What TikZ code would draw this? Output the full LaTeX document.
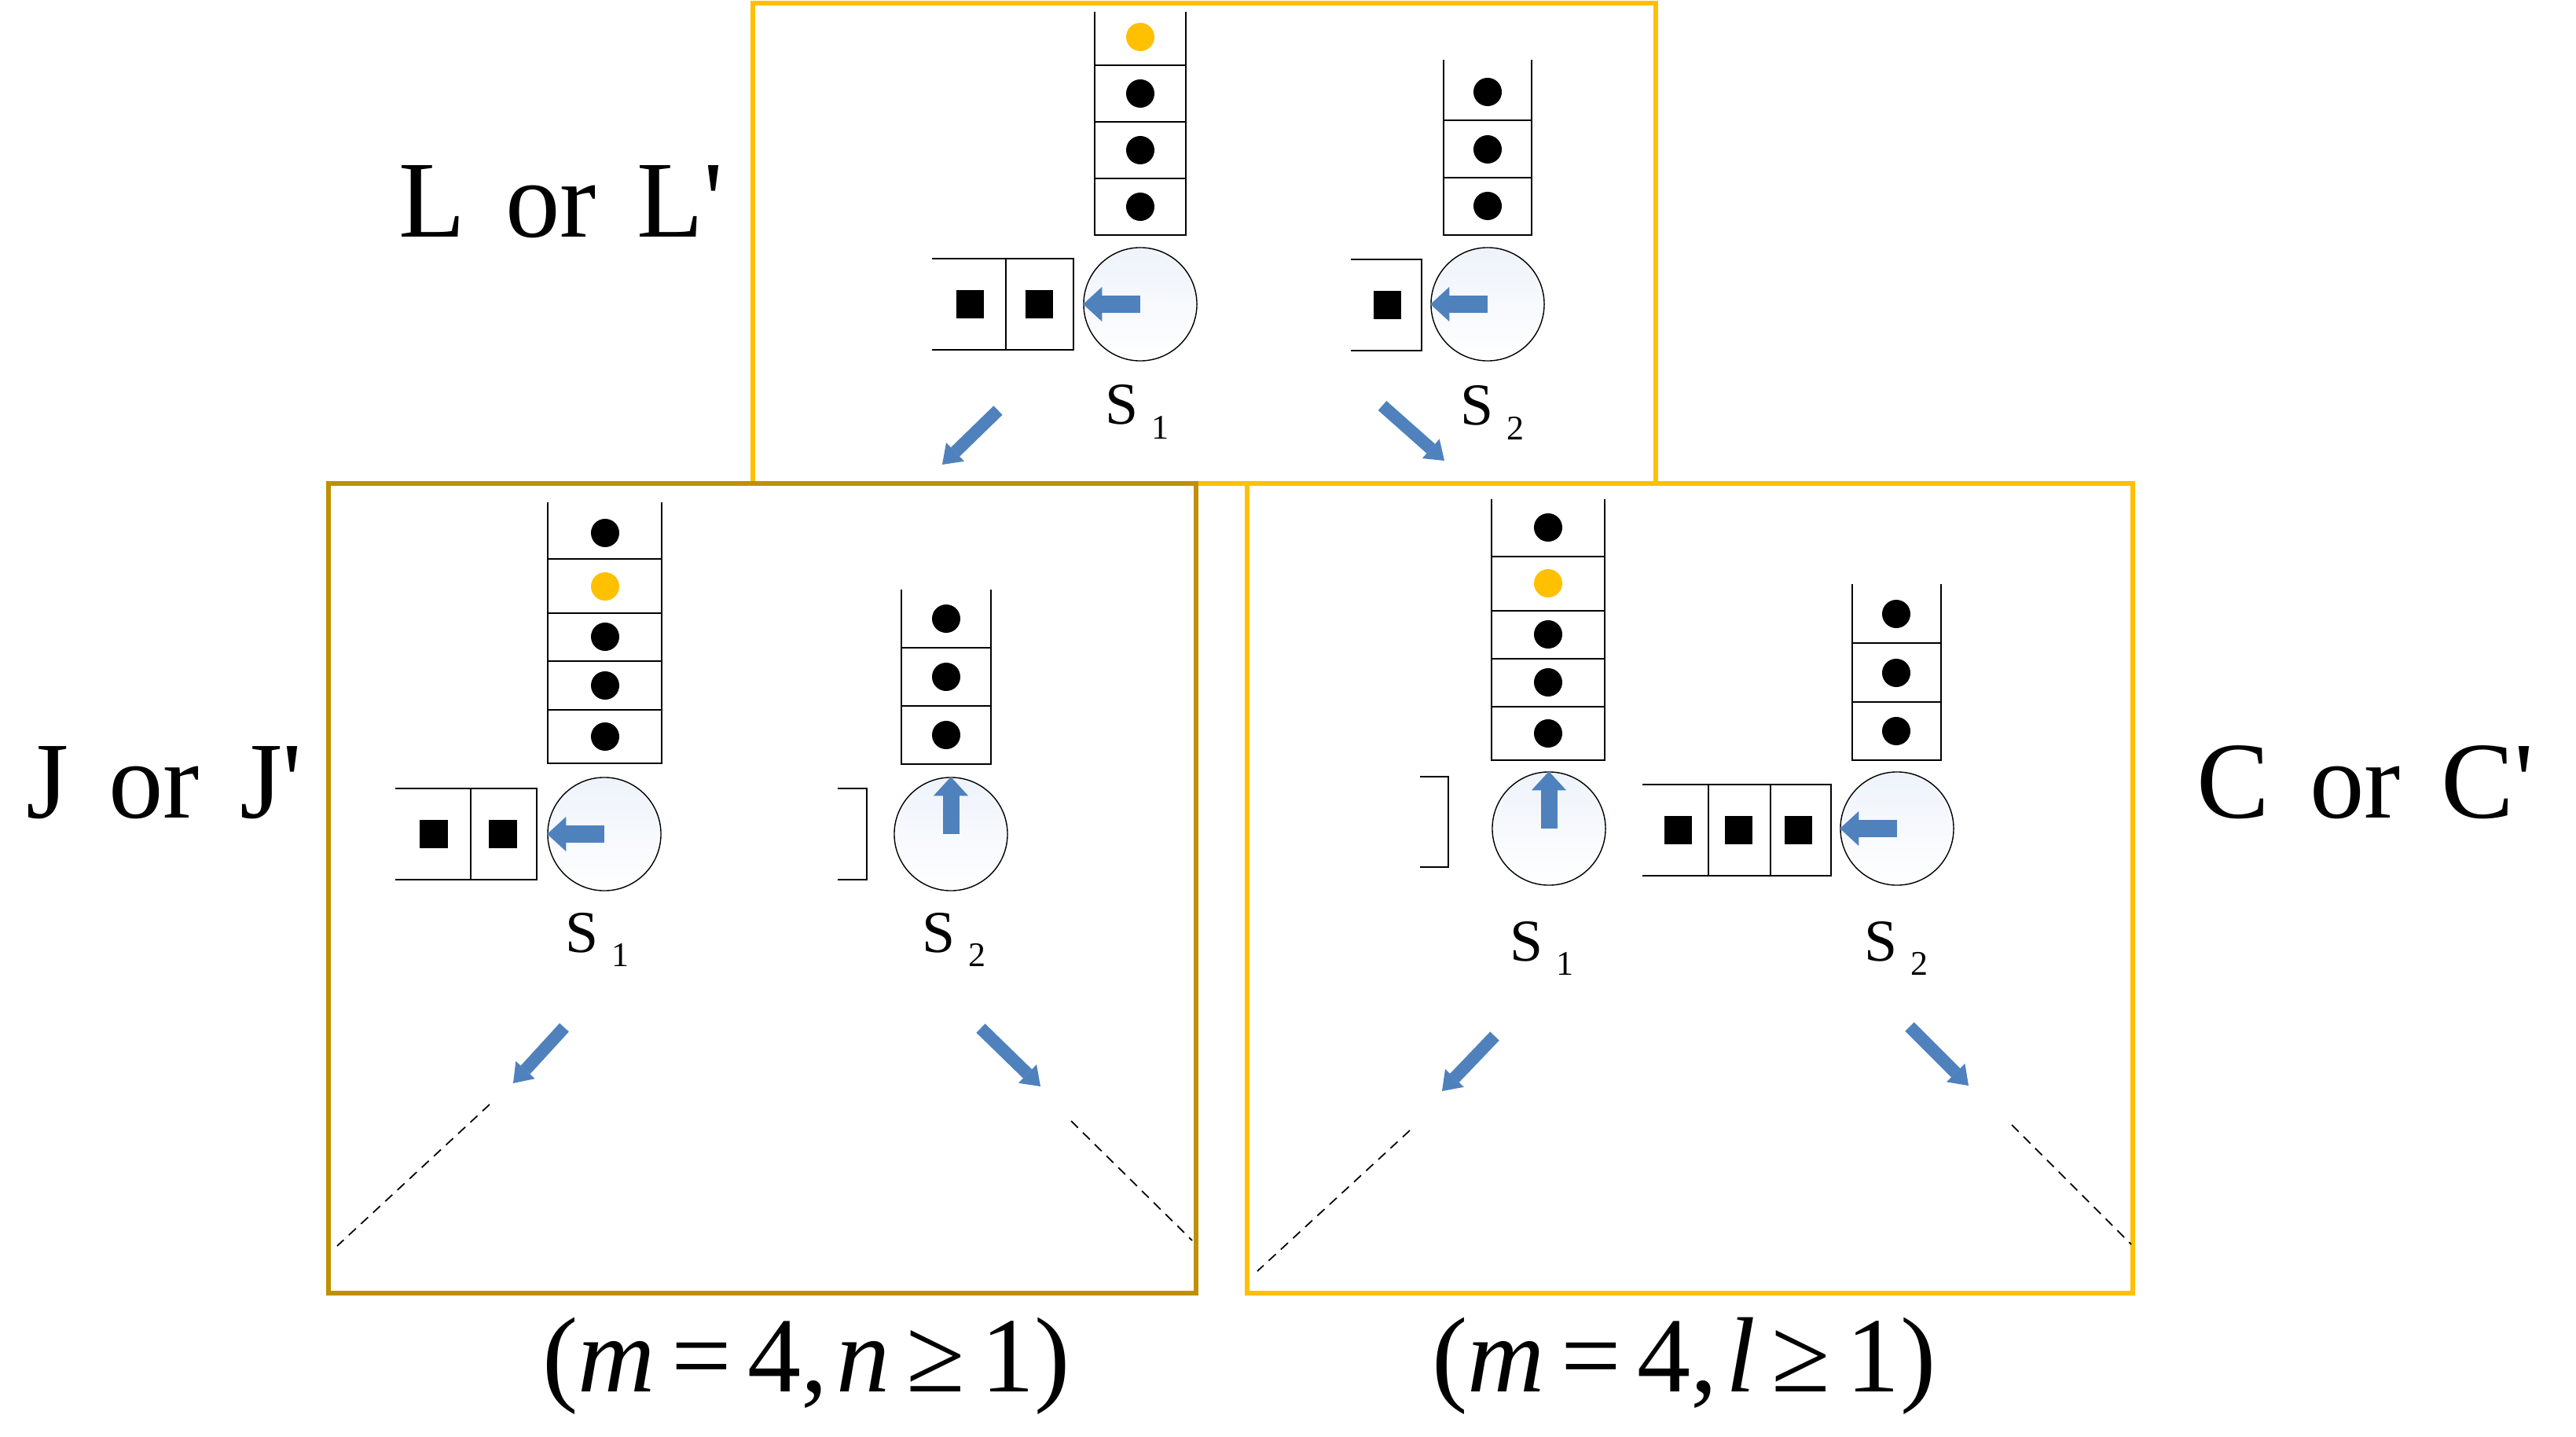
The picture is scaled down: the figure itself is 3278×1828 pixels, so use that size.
\documentclass[tikz,border=0pt]{standalone}
\usepackage{fontspec}
\newfontfamily\tnr{Liberation Serif}
\usetikzlibrary{arrows.meta}
\definecolor{boxyellow}{RGB}{255,192,0}
\definecolor{boxgold}{RGB}{191,144,0}
\definecolor{arrowblue}{RGB}{79,129,189}
\definecolor{srvtint}{RGB}{238,243,251}
\newcommand{\srvname}[1]{S\hspace{0.22em}\raisebox{-0.18cm}{\fontsize{12.5}{13}\selectfont #1}}

\begin{document}
\begin{tikzpicture}[x=0.01cm,y=-0.01cm,
    boxline/.style={line width=1.6pt},
    cell/.style={line width=0.6pt},
    server/.style={circle,draw,line width=0.4pt,minimum size=1.44cm,inner sep=0pt,top color=srvtint,bottom color=white},
    job/.style={circle,fill=black,minimum size=0.36cm,inner sep=0pt},
    newjob/.style={job,fill=boxyellow},
    task/.style={rectangle,fill=black,minimum size=0.35cm,inner sep=0pt},
    flow/.style={arrowblue,line width=2.1mm,-{Triangle[length=2.4mm,width=4.4mm,line width=0pt]}},
    branch/.style={arrowblue,line width=1.6mm,-{Triangle[length=2.3mm,width=3.3mm,line width=0pt]}},
    trail/.style={line width=0.5pt,dash pattern=on 3.5pt off 2.5pt},
    case/.style={font=\tnr\fontsize{39.5}{40}\selectfont,anchor=base,inner sep=0pt},
    srv/.style={font=\tnr\fontsize{21.5}{22}\selectfont,anchor=base,inner sep=0pt},
    cond/.style={font=\tnr\fontsize{38.7}{40}\selectfont,anchor=base,inner sep=0pt}]
    \useasboundingbox (0,0) rectangle (3278,1828);

    % top: L or L'
    \draw[boxline,boxyellow] (958,4) rectangle (2107,615);
    \node[case] (lcase) at (714,302) {L\hspace{0.37em}or\hspace{0.37em}L'};

    \node[server] (ts1) at (1451,387) {};
    \draw[cell] (1393,15) -- (1393,299) -- (1509,299) -- (1509,15);
    \draw[cell] (1393,227) -- (1509,227) (1393,155) -- (1509,155) (1393,83) -- (1509,83);
    \node[job] (tj1) at (1451,263) {};
    \node[job] (tj2) at (1451,191) {};
    \node[job] (tj3) at (1451,119) {};
    \node[newjob] (tj4) at (1451,47) {};
    \draw[cell] (1186,329) -- (1366,329) -- (1366,445) -- (1186,445) (1280,329) -- (1280,445);
    \node[task] (tt1) at (1234,387) {};
    \node[task] (tt2) at (1322,387) {};
    \draw[flow] (ts1.center) -- (ts1.west);
    \node[srv] (tl1) at (1447,540) {\srvname{1}};

    \node[server] (ts2) at (1893,387) {};
    \draw[cell] (1837,76) -- (1837,299) -- (1949,299) -- (1949,76);
    \draw[cell] (1837,226) -- (1949,226) (1837,153) -- (1949,153);
    \node[job] (tk1) at (1893,262) {};
    \node[job] (tk2) at (1893,190) {};
    \node[job] (tk3) at (1893,117) {};
    \draw[cell] (1719,330) -- (1809,330) -- (1809,446) -- (1719,446);
    \node[task] (tu1) at (1765,388) {};
    \draw[flow] (ts2.center) -- (ts2.west);
    \node[srv] (tl2) at (1899,541) {\srvname{2}};

    \coordinate (ta1) at (1270,522);
    \coordinate (ta2) at (1199,591);
    \coordinate (tb1) at (1759,516);
    \coordinate (tb2) at (1838,586);
    \draw[branch] (ta1) -- (ta2);
    \draw[branch] (tb1) -- (tb2);

    % left: J or J'
    \draw[boxline,boxgold] (418,615) rectangle (1522,1645);
    \node[case] (jcase) at (209,1040) {J\hspace{0.37em}or\hspace{0.37em}J'};

    \node[server] (js1) at (769,1061) {};
    \draw[cell] (697,639) -- (697,971) -- (842,971) -- (842,639);
    \draw[cell] (697,903) -- (842,903) (697,841) -- (842,841) (697,780) -- (842,780) (697,711) -- (842,711);
    \node[job] (jj1) at (770,937) {};
    \node[job] (jj2) at (770,872) {};
    \node[job] (jj3) at (770,810) {};
    \node[newjob] (jj4) at (770,746) {};
    \node[job] (jj5) at (770,678) {};
    \draw[cell] (503,1003) -- (683,1003) -- (683,1119) -- (503,1119) (599,1003) -- (599,1119);
    \node[task] (jt1) at (552,1061) {};
    \node[task] (jt2) at (640,1061) {};
    \draw[flow] (js1.center) -- (js1.west);
    \node[srv] (jl1) at (760,1211) {\srvname{1}};

    \node[server] (js2) at (1210,1061) {};
    \draw[cell] (1147,750) -- (1147,972) -- (1261,972) -- (1261,750);
    \draw[cell] (1147,898) -- (1261,898) (1147,824) -- (1261,824);
    \node[job] (jk1) at (1204,935) {};
    \node[job] (jk2) at (1204,861) {};
    \node[job] (jk3) at (1204,787) {};
    \draw[cell] (1066,1003) -- (1103,1003) -- (1103,1119) -- (1066,1119);
    \draw[flow] (js2.center) -- (js2.north);
    \node[srv] (jl2) at (1214,1211) {\srvname{2}};

    \coordinate (ja1) at (718,1307);
    \coordinate (ja2) at (653,1378);
    \coordinate (jb1) at (1248,1308);
    \coordinate (jb2) at (1324,1382);
    \draw[branch] (ja1) -- (ja2);
    \draw[branch] (jb1) -- (jb2);
    \coordinate (jd1) at (623,1405);
    \coordinate (jd2) at (429,1585);
    \coordinate (je1) at (1363,1426);
    \coordinate (je2) at (1517,1578);
    \draw[trail] (jd1) -- (jd2);
    \draw[trail] (je1) -- (je2);
    \node[cond] (jcond) at (1026,1770) {(\textit{m}\hspace{0.15em}=\hspace{0.15em}4,\hspace{0.08em}\textit{n}\hspace{0.15em}≥\hspace{0.15em}1)};

    % right: C or C'
    \draw[boxline,boxyellow] (1587,615) rectangle (2714,1645);
    \node[case] (ccase) at (3010,1040) {C\hspace{0.37em}or\hspace{0.37em}C'};

    \node[server] (cs1) at (1971,1054) {};
    \draw[cell] (1898,635) -- (1898,967) -- (2042,967) -- (2042,635);
    \draw[cell] (1898,899) -- (2042,899) (1898,838) -- (2042,838) (1898,777) -- (2042,777) (1898,708) -- (2042,708);
    \node[job] (cj1) at (1970,933) {};
    \node[job] (cj2) at (1970,868) {};
    \node[job] (cj3) at (1970,807) {};
    \node[newjob] (cj4) at (1970,742) {};
    \node[job] (cj5) at (1970,671) {};
    \draw[cell] (1807,988) -- (1843,988) -- (1843,1103) -- (1807,1103);
    \draw[flow] (cs1.center) -- (cs1.north);
    \node[srv] (cl1) at (1962,1222) {\srvname{1}};

    \node[server] (cs2) at (2414,1054) {};
    \draw[cell] (2357,743) -- (2357,967) -- (2470,967) -- (2470,743);
    \draw[cell] (2357,893) -- (2470,893) (2357,818) -- (2470,818);
    \node[job] (ck1) at (2413,930) {};
    \node[job] (ck2) at (2413,856) {};
    \node[job] (ck3) at (2413,781) {};
    \draw[cell] (2090,998) -- (2330,998) -- (2330,1114) -- (2090,1114) (2174,998) -- (2174,1114) (2253,998) -- (2253,1114);
    \node[task] (ct1) at (2135,1056) {};
    \node[task] (ct2) at (2212,1056) {};
    \node[task] (ct3) at (2288,1056) {};
    \draw[flow] (cs2.center) -- (cs2.west);
    \node[srv] (cl2) at (2413,1222) {\srvname{2}};

    \coordinate (ca1) at (1902,1318);
    \coordinate (ca2) at (1835,1388);
    \coordinate (cb1) at (2430,1306);
    \coordinate (cb2) at (2505,1381);
    \draw[branch] (ca1) -- (ca2);
    \draw[branch] (cb1) -- (cb2);
    \coordinate (cd1) at (1794,1438);
    \coordinate (cd2) at (1600,1617);
    \coordinate (ce1) at (2560,1431);
    \coordinate (ce2) at (2712,1583);
    \draw[trail] (cd1) -- (cd2);
    \draw[trail] (ce1) -- (ce2);
    \node[cond] (ccond) at (2143,1770) {(\textit{m}\hspace{0.15em}=\hspace{0.15em}4,\hspace{0.08em}\textit{l}\hspace{0.15em}≥\hspace{0.15em}1)};
\end{tikzpicture}
\end{document}
